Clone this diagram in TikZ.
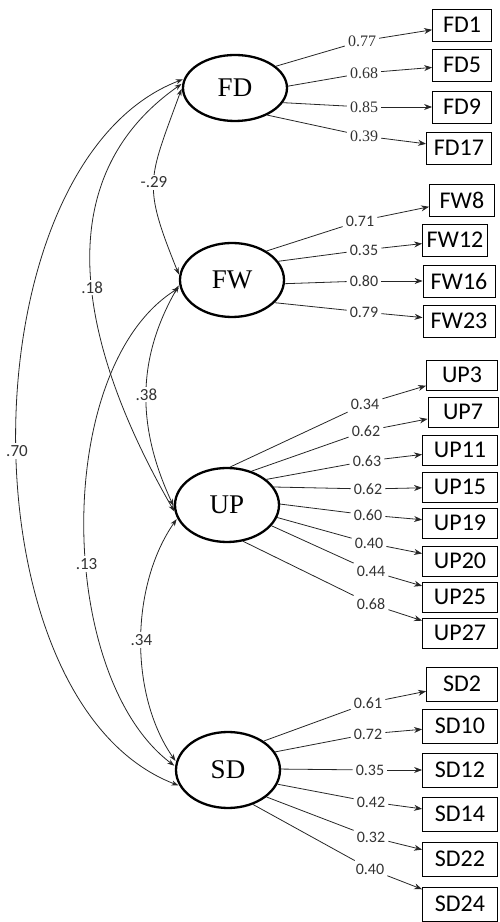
\documentclass[tikz,border=0pt]{standalone}
\usepackage{fontspec}
\setmainfont{Liberation Serif}
\newfontfamily\calibri{Carlito}
\usetikzlibrary{shapes.geometric,arrows.meta}

\begin{document}
\begin{tikzpicture}[x=1pt, y=1pt,
    latent/.style={ellipse, draw, line width=2.3pt, minimum width=104pt, inner sep=0pt, font=\fontsize{27}{29}\selectfont},
    item/.style={draw, line width=0.8pt, minimum height=32pt, inner sep=2pt, font=\calibri\fontsize{24}{26}\selectfont},
    load/.style={inner sep=3pt, text=black!80, font=\calibri\fontsize{16}{18}\selectfont},
    loadrm/.style={load, font=\fontsize{16}{18}\selectfont},
    corr/.style={inner sep=2pt, fill=white, text=black!80, font=\calibri\fontsize{17}{19}\selectfont},
    lnk/.style={draw=black!85, line width=0.8pt},
    toitem/.style={lnk, -{Stealth[length=8pt, width=6pt]}},
    covar/.style={lnk, {Stealth[length=7pt, width=5pt]}-{Stealth[length=7pt, width=5pt]}, shorten <=1pt, shorten >=1pt}]

    % Frame
    \useasboundingbox (0,0) rectangle (499,922);

    % Factors
    \node[latent, minimum height=66pt] (FD) at (235,834) {FD};
    \node[latent, minimum height=74pt] (FW) at (232,642) {FW};
    \node[latent, minimum height=74pt] (UP) at (227,417) {UP};
    \node[latent, minimum height=76pt] (SD) at (228,152) {SD};

    % FD items
    \foreach \n/\a/\lx/\ly/\bx/\by/\w/\v in {
        FD1/28/362/881/462/897/59/0.77,
        FD5/2/364/849/462/857/59/0.68,
        FD9/343/364/815/462/815/59/0.85,
        FD17/320/364/786/459/774/65/0.39}
    {
        \node[item, minimum width=\w pt] (\n) at (\bx,\by) {\n};
        \node[loadrm] (l\n) at (\lx,\ly) {\v};
        \draw[lnk] (FD.\a) -- (l\n);
        \draw[toitem] (l\n) -- (\n);
    }

    % FW items
    \foreach \n/\a/\lx/\ly/\bx/\by/\w/\v in {
        FW8/40/360/701/462/722/65/0.71,
        FW12/22/364/672/455/682/65/0.35,
        FW16/356/364/641/459/641/72/0.80,
        FW23/332/364/610/459/601/72/0.79}
    {
        \node[item, minimum width=\w pt] (\n) at (\bx,\by) {\n};
        \node[load] (l\n) at (\lx,\ly) {\v};
        \draw[lnk] (FW.\a) -- (l\n);
        \draw[toitem] (l\n) -- (\n);
    }

    % UP items
    \foreach \n/\a/\lx/\ly/\bx/\by/\w/\v in {
        UP3/85/365/518/462/547/71/0.34,
        UP7/54/366/491/463/510/70/0.62,
        UP11/33/367/461/460/472/75/0.63,
        UP15/21/368/433/460/435/75/0.62,
        UP19/1/368/407/460/399/75/0.60,
        UP20/346/369/379/460/361/75/0.40,
        UP25/335/371/351/460/325/75/0.44,
        UP27/294/371/318/460/289/75/0.68}
    {
        \node[item, minimum width=\w pt, minimum height=30pt] (\n) at (\bx,\by) {\n};
        \node[load] (l\n) at (\lx,\ly) {\v};
        \draw[lnk] (UP.\a) -- (l\n);
        \draw[toitem] (l\n) -- (\n);
    }

    % SD items
    \foreach \n/\a/\lx/\ly/\bx/\by/\w/\v in {
        SD2/39/368/219/462/238/71/0.61,
        SD10/21/368/188/460/196/75/0.72,
        SD12/1/370/152/460/152/75/0.35,
        SD14/344/371/120/460/108/75/0.42,
        SD22/325/371/85/460/63/75/0.32,
        SD24/306/370/53/460/18/75/0.40}
    {
        \node[item, minimum width=\w pt, minimum height=34pt] (\n) at (\bx,\by) {\n};
        \node[load] (l\n) at (\lx,\ly) {\v};
        \draw[lnk] (SD.\a) -- (l\n);
        \draw[toitem] (l\n) -- (\n);
    }

    % Correlations
    \draw[covar] (FD.180) to[out=250, in=112, looseness=1.35] node[corr, pos=0.5] {-.29} (FW.175);
    \draw[covar] (FD.175) to[out=215, in=120, looseness=1.05] node[corr, pos=0.52] {.18} (UP.188);
    \draw[covar] (FW.185) to[out=240, in=115] node[corr, pos=0.5] {.38} (UP.182);
    \draw[covar] (FW.188) to[out=212, in=143, looseness=0.8] node[corr, pos=0.57] {.13} (SD.176);
    \draw[covar] (UP.195) to[out=235, in=125, looseness=0.86] node[corr, pos=0.5] {.34} (SD.171);
    \draw[covar] (FD.170) to[out=201, in=159, looseness=0.85] node[corr, pos=0.52] {.70} (SD.198);
\end{tikzpicture}
\end{document}
